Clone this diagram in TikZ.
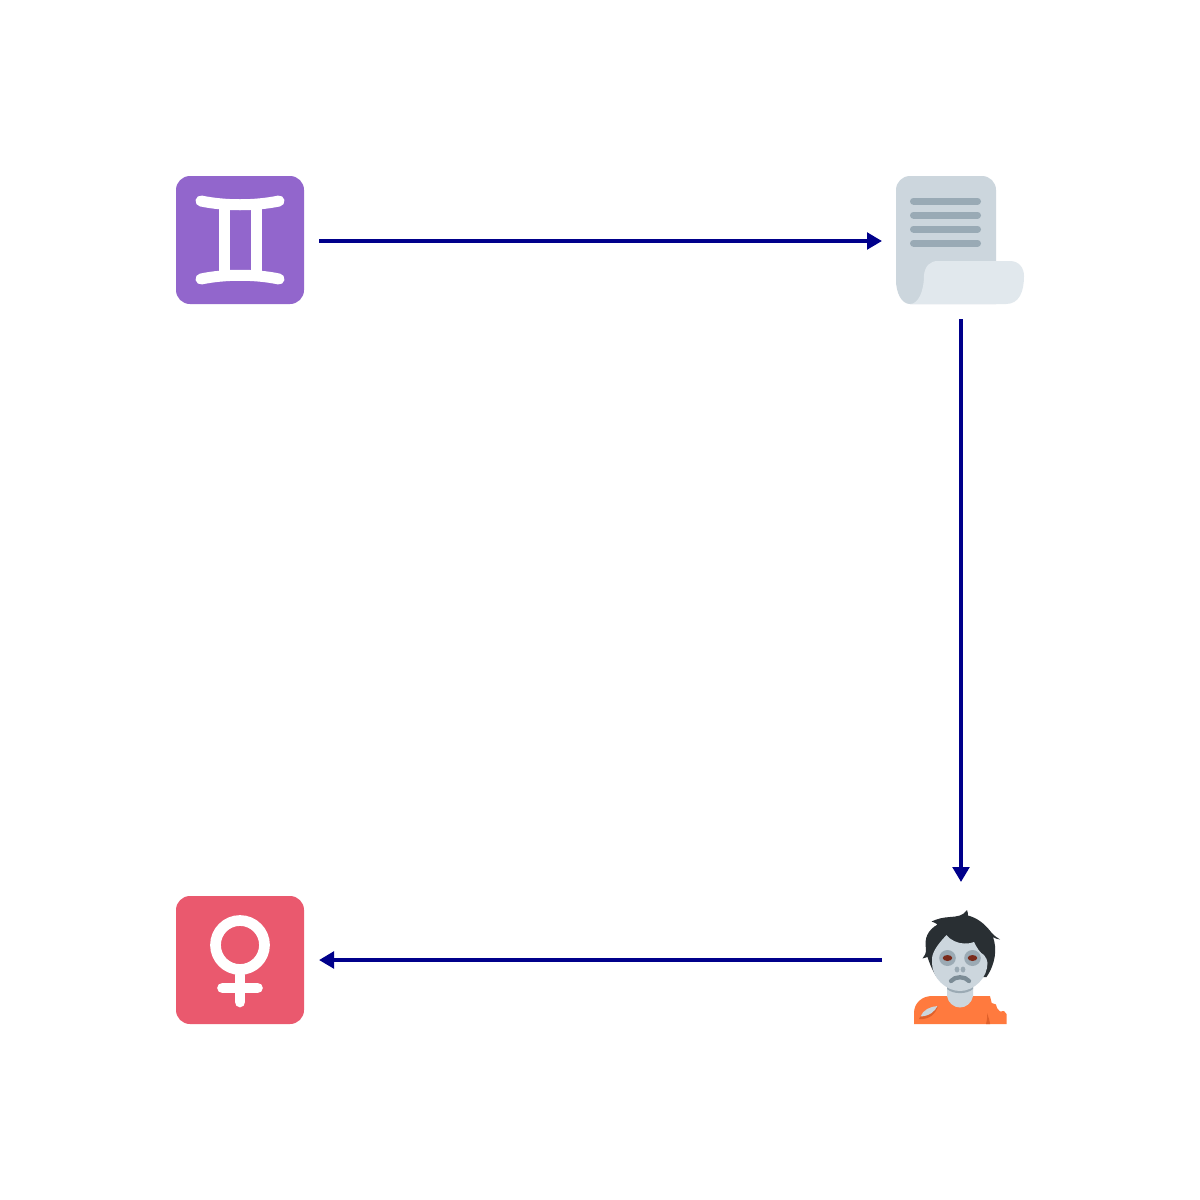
\documentclass[tikz,border=0pt]{standalone}
\usetikzlibrary{arrows.meta}
\definecolor{arrowblue}{HTML}{00008B}
\definecolor{gempurple}{HTML}{9266CC}
\definecolor{venusred}{HTML}{EA596E}
\definecolor{paperdark}{HTML}{CCD6DD}
\definecolor{paperlight}{HTML}{E1E8ED}
\definecolor{paperline}{HTML}{99AAB5}
\definecolor{hair}{HTML}{292F33}
\definecolor{skin}{HTML}{CCD6DD}
\definecolor{skinshade}{HTML}{9BAAB4}
\definecolor{mouthgrey}{HTML}{7C8C96}
\definecolor{eyered}{HTML}{7A2A1A}
\definecolor{shirt}{HTML}{FF7A3E}
\definecolor{shirtdark}{HTML}{E0602A}
\tikzset{
  icon/.style={minimum size=128pt,inner sep=0pt,outer sep=15pt},
  flow/.style={draw=arrowblue,line width=4pt,-{Triangle[length=15pt,width=16.5pt]}},
  glyph/.style={draw=white,line cap=round,line join=round}
}
\begin{document}
\begin{tikzpicture}[x=1pt,y=-1pt]
\useasboundingbox (0,0) rectangle (1200,1200);
\fill[white] (0,0) rectangle (1200,1200);
% Gemini
\fill[gempurple,rounded corners=14pt] (176,176) rectangle (304,304);
\fill[white] (218.5,205) rectangle (229.5,272);
\fill[white] (250.5,205) rectangle (261.5,272);
\draw[glyph,line width=11pt] (201,201) .. controls (225,206) and (255,206) .. (279,201);
\draw[glyph,line width=11pt] (201,279) .. controls (225,274) and (255,274) .. (279,279);
% Scroll
\fill[paperdark] (910,304) .. controls (901,304) and (896,292) .. (896,280) -- (896,190)
  arc[start angle=180,end angle=270,radius=14] -- (982,176)
  arc[start angle=270,end angle=360,radius=14] -- (996,270) -- (996,304) -- cycle;
\fill[paperlight] (910,304) .. controls (918,304) and (924,292) .. (924,275)
  .. controls (925,266) and (930,261) .. (938,261) -- (1010,261)
  .. controls (1019,261) and (1024,268) .. (1024,276)
  .. controls (1024,292) and (1019,304) .. (1006,304) -- cycle;
\foreach \y in {201,215,229,243}
  \draw[paperline,line width=7pt,line cap=round] (913.5,\y) -- (977.5,\y);
% Venus
\fill[venusred,rounded corners=14pt] (176,896) rectangle (304,1024);
\draw[white,line width=10.7pt] (240,945) circle[radius=24.5];
\draw[glyph,line width=10.7pt] (240,975) -- (240,1002);
\draw[glyph,line width=10.7pt] (222.5,988) -- (257.5,988);
% Zombie: shirt
\fill[shirt] (914,1024) -- (914,1013) .. controls (914,1003) and (922,996) .. (932,996)
  -- (990,996) -- (991.7,1003) -- (996,1004.5) -- (997,1008) -- (1000,1011.5)
  -- (1004,1011) -- (1006.5,1014) -- (1006.5,1024) -- cycle;
\fill[shirtdark] (987,1013) .. controls (988.5,1017) and (989.5,1020) .. (990,1024) -- (986,1024)
  .. controls (987,1020) and (987.5,1017) .. (987,1013) -- cycle;
\fill[shirtdark] (919,1019) .. controls (922,1012) and (930,1008) .. (938,1006)
  .. controls (936,1013) and (930,1020) .. (919,1019) -- cycle;
\fill[skin] (920.5,1016.5) .. controls (923,1010) and (930,1006.5) .. (937.5,1006)
  .. controls (935,1011) and (930,1016) .. (920.5,1016.5) -- cycle;
% neck
\fill[skin] (947,985) -- (973,985) -- (973,996)
  .. controls (972,1003) and (966,1007.5) .. (960,1007.5)
  .. controls (954,1007.5) and (948,1003) .. (947,996) -- cycle;
\fill[skinshade] (947,984) -- (973,984) -- (973,989)
  .. controls (967,994.5) and (953,994.5) .. (947,989) -- cycle;
% hair
\fill[hair] (922.5,958.5) .. controls (925,956) and (926,953) .. (926,949)
  .. controls (924,938) and (928,930) .. (937.5,924.5)
  .. controls (936,923) and (934,922.5) .. (931.5,921.5)
  .. controls (938,918.5) and (943,917.5) .. (950,917)
  .. controls (957,916.5) and (963,916) .. (967,910)
  .. controls (968,912.5) and (968,914) .. (968,915.5)
  .. controls (977,918) and (984,923) .. (991,932)
  .. controls (994,936) and (998,938) .. (1000,939.5)
  .. controls (997,939) and (995,938.5) .. (993,937)
  .. controls (997,948) and (996,963) .. (986.5,977)
  -- (936.7,977) .. controls (932,970) and (929.5,963) .. (927.5,957)
  .. controls (926,957.5) and (924,958) .. (922.5,958.5) -- cycle;
% face
\fill[skin] (932,958) .. controls (933,950) and (940,942) .. (946.5,935)
  .. controls (950,940) and (958,943.5) .. (964,943.5)
  .. controls (969,943.5) and (972,943) .. (974,942)
  .. controls (977,948) and (980,953) .. (984,955)
  .. controls (986,958) and (987.5,960) .. (987.5,963)
  .. controls (987.5,978) and (974,991) .. (960,991)
  .. controls (946,991) and (932,978) .. (932,963) -- cycle;
\fill[skinshade] (947.5,958) ellipse[x radius=8.3,y radius=8];
\fill[skinshade] (972.5,958) ellipse[x radius=8.3,y radius=8];
\fill[eyered] (947.5,958) ellipse[x radius=4.8,y radius=3];
\fill[eyered] (972.5,958) ellipse[x radius=4.8,y radius=3];
\fill[skinshade] (957,969.5) ellipse[x radius=2.4,y radius=3];
\fill[skinshade] (963,969.5) ellipse[x radius=2.4,y radius=3];
\draw[mouthgrey,line width=4.3pt,line cap=round] (951,981) .. controls (955,976) and (965,976) .. (969,981);
% Named nodes for connections
\node[icon] (gemini) at (240,241) {};
\node[icon] (scroll) at (961,241) {};
\node[icon] (zombie) at (961,960) {};
\node[icon] (venus) at (240,960) {};
\draw[flow] (gemini.east) -- (scroll.west);
\draw[flow,shorten <=-1pt,shorten >=-1pt] (scroll.south) -- (zombie.north);
\draw[flow] (zombie.west) -- (venus.east);
\end{tikzpicture}
\end{document}
